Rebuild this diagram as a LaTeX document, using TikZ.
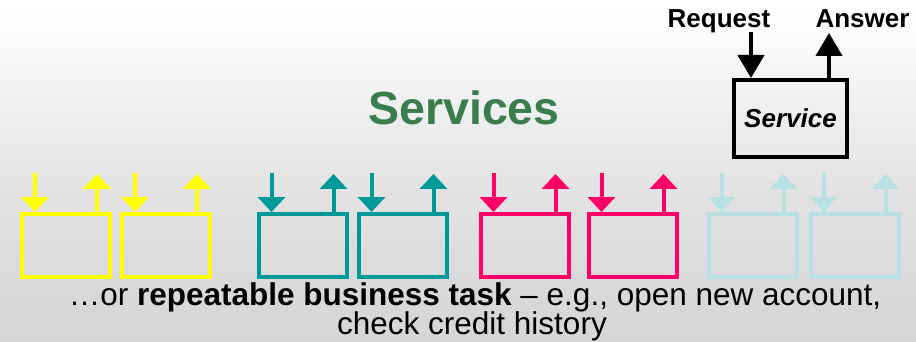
\documentclass[tikz,border=0pt]{standalone}
\usepackage{fontspec}
\setmainfont{Liberation Sans}
\usetikzlibrary{arrows.meta}
\definecolor{srvgreen}{HTML}{3A7D4C}
\definecolor{srvyellow}{HTML}{FFFF00}
\definecolor{srvteal}{HTML}{009999}
\definecolor{srvpink}{HTML}{FF0066}
\definecolor{srvcyan}{HTML}{B9E1E3}
\definecolor{bgA}{HTML}{D6D6D6}
\definecolor{bgB}{HTML}{D8D8D8}
\definecolor{bgC}{HTML}{E2E2E2}
\definecolor{bgD}{HTML}{F0F0F0}
\definecolor{bgE}{HTML}{FCFCFC}
\pgfdeclareverticalshading{slidebg}{100bp}{color(0bp)=(bgA); color(25bp)=(bgA); color(31bp)=(bgB); color(46bp)=(bgC); color(60bp)=(bgD); color(70.6bp)=(bgE); color(75bp)=(white); color(100bp)=(white)}
\tikzstyle{arrow} = [line width=4pt, -{Triangle[width=27pt,length=15pt]}]
\tikzstyle{bigarrow} = [line width=4pt, -{Triangle[width=26pt,length=23pt]}]
\tikzstyle{task} = [rectangle, line width=4pt, minimum width=88pt, minimum height=63pt, inner sep=0pt, draw]
\tikzstyle{service} = [rectangle, line width=4pt, minimum width=113pt, minimum height=77pt, inner sep=0pt, draw=black, font=\fontsize{26}{30}\selectfont\bfseries\itshape]
\tikzstyle{label} = [inner sep=0pt, anchor=base, font=\fontsize{26}{30}\selectfont\bfseries]
\tikzstyle{caption} = [inner sep=0pt, anchor=base, font=\fontsize{31.5}{34}\selectfont]

\begin{document}
\begin{tikzpicture}[x=1pt, y=-1pt]
				\shade[shading=slidebg] (0,0) rectangle (916,342);
				\useasboundingbox (0,0) rectangle (916,342);
				%\node(label)[type]{name}
				\node(title)[font=\fontsize{46.5}{50}\selectfont\bfseries, text=srvgreen, inner sep=0pt, anchor=base] at (464,125){Services};
				
				\node(srv)[service] at (790.5,118.5){Service};
				\node(req)[label] at (719,28){Request};
				\node(ans)[label] at (862.5,28){Answer};
				\coordinate(reqin) at (751,32);
				\coordinate(ansout) at (829,33);
				
				\node(y1)[task, draw=srvyellow] at (66,245.5){};
				\node(y2)[task, draw=srvyellow] at (166,245.5){};
				\node(t1)[task, draw=srvteal] at (302.5,245.5){};
				\node(t2)[task, draw=srvteal] at (402.5,245.5){};
				\node(p1)[task, draw=srvpink] at (524.5,245.5){};
				\node(p2)[task, draw=srvpink] at (632.5,245.5){};
				\node(c1)[task, draw=srvcyan] at (752.5,245.5){};
				\node(c2)[task, draw=srvcyan] at (854.5,245.5){};
				
				\node(task1)[caption] at (475,305){…or \textbf{repeatable business task} – e.g., open new account,};
				\node(task2)[caption] at (472,334){check credit history};
				
				%ends of the arrows
				\coordinate(y1in) at ([xshift=-31pt,yshift=39pt]y1.north);
				\coordinate(y1out) at ([xshift=31pt,yshift=38pt]y1.north);
				\coordinate(y2in) at ([xshift=-31pt,yshift=39pt]y2.north);
				\coordinate(y2out) at ([xshift=31pt,yshift=38pt]y2.north);
				\coordinate(t1in) at ([xshift=-31pt,yshift=39pt]t1.north);
				\coordinate(t1out) at ([xshift=31pt,yshift=38pt]t1.north);
				\coordinate(t2in) at ([xshift=-31pt,yshift=39pt]t2.north);
				\coordinate(t2out) at ([xshift=31pt,yshift=38pt]t2.north);
				\coordinate(p1in) at ([xshift=-31pt,yshift=39pt]p1.north);
				\coordinate(p1out) at ([xshift=31pt,yshift=38pt]p1.north);
				\coordinate(p2in) at ([xshift=-31pt,yshift=39pt]p2.north);
				\coordinate(p2out) at ([xshift=31pt,yshift=38pt]p2.north);
				\coordinate(c1in) at ([xshift=-31pt,yshift=39pt]c1.north);
				\coordinate(c1out) at ([xshift=31pt,yshift=38pt]c1.north);
				\coordinate(c2in) at ([xshift=-31pt,yshift=39pt]c2.north);
				\coordinate(c2out) at ([xshift=31pt,yshift=38pt]c2.north);
				
				%arrows
					\draw [bigarrow] (reqin) -- (reqin |- srv.north);
					\draw [bigarrow] (ansout |- srv.north) -- (ansout);
					\draw [arrow, srvyellow] (y1in) -- (y1in |- y1.north);
					\draw [arrow, srvyellow] (y1out |- y1.north) -- (y1out);
					\draw [arrow, srvyellow] (y2in) -- (y2in |- y2.north);
					\draw [arrow, srvyellow] (y2out |- y2.north) -- (y2out);
					\draw [arrow, srvteal] (t1in) -- (t1in |- t1.north);
					\draw [arrow, srvteal] (t1out |- t1.north) -- (t1out);
					\draw [arrow, srvteal] (t2in) -- (t2in |- t2.north);
					\draw [arrow, srvteal] (t2out |- t2.north) -- (t2out);
					\draw [arrow, srvpink] (p1in) -- (p1in |- p1.north);
					\draw [arrow, srvpink] (p1out |- p1.north) -- (p1out);
					\draw [arrow, srvpink] (p2in) -- (p2in |- p2.north);
					\draw [arrow, srvpink] (p2out |- p2.north) -- (p2out);
					\draw [arrow, srvcyan] (c1in) -- (c1in |- c1.north);
					\draw [arrow, srvcyan] (c1out |- c1.north) -- (c1out);
					\draw [arrow, srvcyan] (c2in) -- (c2in |- c2.north);
					\draw [arrow, srvcyan] (c2out |- c2.north) -- (c2out);
				\end{tikzpicture}
\end{document}
